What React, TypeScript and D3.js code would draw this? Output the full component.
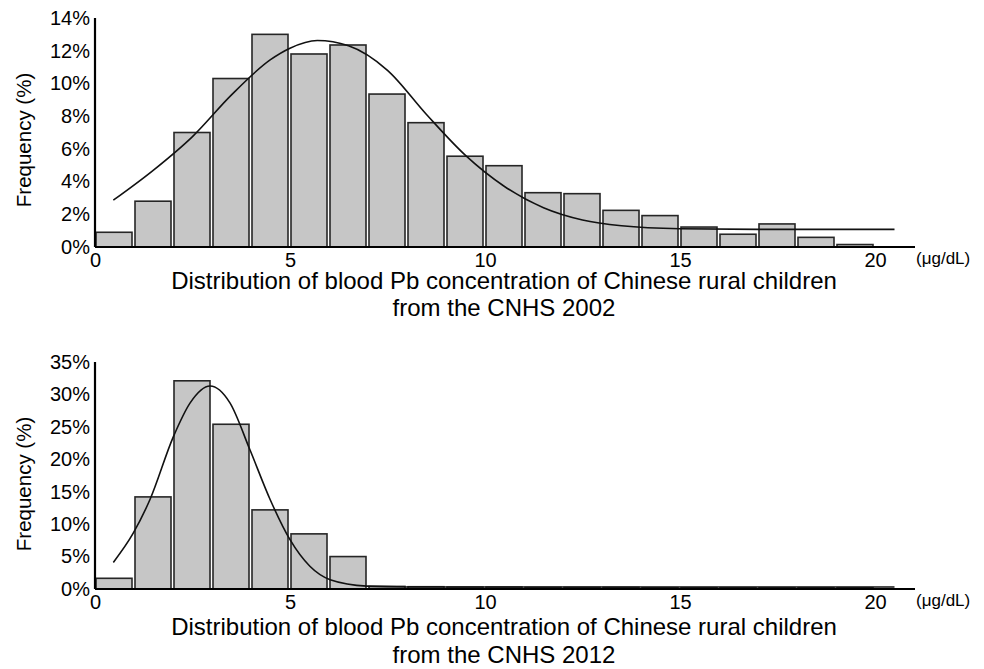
import React, { useEffect, useRef } from 'react';
import * as d3 from 'd3';

// bins are 1 µg/dL wide, 0–20
const binStarts = d3.range(0, 20);

// 2002 survey: bar heights (%)
const freq2002 = [0.9, 2.8, 7.0, 10.3, 13.0, 11.8, 12.35, 9.35, 7.6, 5.55, 4.97, 3.32, 3.26, 2.24, 1.92, 1.22, 0.78, 1.41, 0.59, 0.15];
// 2002 fitted curve [µg/dL, %]
const curve2002X = [0.47, 1.5, 2.5, 3.5, 4.5, 5.0, 5.7, 6.5, 7.5, 8.5, 9.5, 10.5, 11.5, 12.5, 13.5, 15.0, 17.0, 20.5];
const curve2002Y = [2.86, 4.7, 6.75, 9.3, 11.45, 12.15, 12.62, 12.3, 10.8, 8.1, 5.6, 3.7, 2.4, 1.65, 1.3, 1.12, 1.08, 1.08];

// 2012 survey: bar heights (%)
const freq2012 = [1.65, 14.2, 32.1, 25.4, 12.2, 8.5, 5.0, 0.4, 0.35, 0.3, 0.3, 0.25, 0.25, 0.25, 0.2, 0.2, 0.2, 0.2, 0.2, 0.2];
const curve2012X = [0.47, 0.98, 1.41, 2.01, 2.44, 2.95, 3.46, 3.97, 4.49, 5.0, 5.51, 6.03, 6.97, 8.0, 12.0, 20.5];
const curve2012Y = [4.1, 8.6, 13.8, 23.5, 28.7, 31.3, 28.7, 21.5, 13.8, 7.6, 3.5, 1.43, 0.45, 0.32, 0.3, 0.3];

const xTicks = [0, 5, 10, 15, 20];
const ticks2002 = [0, 2, 4, 6, 8, 10, 12, 14];
const ticks2012 = [0, 5, 10, 15, 20, 25, 30, 35];

const FONT = 'Liberation Sans, Arial, sans-serif';

const Panel = ({ freq, curveX, curveY, yTicks, yTop, yBottom, titleLines, titleY, labelY, svgRef }) => {
    useEffect(() => {
        if (!svgRef.current) return;
        const svg = d3.select(svgRef.current).append('g');

        const x = d3.scaleLinear().domain([0, 20]).range([95, 875]);
        const y = d3.scaleLinear().domain([0, yTicks[yTicks.length - 1]]).range([yBottom, yTop]);

        // bars
        svg.append('g')
            .selectAll('rect')
            .data(binStarts)
            .join('rect')
            .attr('x', d => x(d) + 1)
            .attr('width', d => x(d + 1) - x(d) - 3)
            .attr('y', (d, i) => y(freq[i]))
            .attr('height', (d, i) => yBottom - y(freq[i]))
            .attr('fill', '#c6c6c6')
            .attr('stroke', '#262626')
            .attr('stroke-width', 1.6);

        // fitted curve
        const pts = curveX.map((v, i) => [v, curveY[i]]);
        const line = d3.line()
            .x(d => x(d[0]))
            .y(d => y(d[1]))
            .curve(d3.curveMonotoneX);
        svg.append('path')
            .datum(pts)
            .attr('fill', 'none')
            .attr('stroke', '#111')
            .attr('stroke-width', 1.6)
            .attr('d', line);

        // axes
        svg.append('line')
            .attr('x1', 95).attr('x2', 915)
            .attr('y1', yBottom).attr('y2', yBottom)
            .attr('stroke', '#000').attr('stroke-width', 2.2);
        svg.append('line')
            .attr('x1', 95).attr('x2', 95)
            .attr('y1', yTop).attr('y2', yBottom)
            .attr('stroke', '#000').attr('stroke-width', 2.2);

        svg.append('g')
            .attr('transform', `translate(0,${yBottom})`)
            .call(d3.axisBottom(x).tickValues(xTicks).tickSize(0).tickPadding(6))
            .call(g => g.select('.domain').remove())
            .selectAll('text')
            .attr('fill', '#000')
            .style('font-family', FONT)
            .style('font-size', '20px');

        svg.append('g')
            .attr('transform', 'translate(95,0)')
            .call(d3.axisLeft(y).tickValues(yTicks).tickSize(0).tickPadding(5).tickFormat(d => d + '%'))
            .call(g => g.select('.domain').remove())
            .selectAll('text')
            .attr('fill', '#000')
            .style('font-family', FONT)
            .style('font-size', '20px');

        svg.append('text')
            .attr('x', 916)
            .attr('y', yBottom + 17)
            .text('(μg/dL)')
            .style('font-family', FONT)
            .style('font-size', '17px');

        svg.append('text')
            .attr('transform', `translate(24,${labelY}) rotate(-90)`)
            .attr('text-anchor', 'middle')
            .attr('dy', '0.35em')
            .text('Frequency (%)')
            .style('font-family', FONT)
            .style('font-size', '20.5px');

        titleLines.forEach((t, i) => {
            svg.append('text')
                .attr('x', 504)
                .attr('y', titleY[i])
                .attr('text-anchor', 'middle')
                .text(t)
                .style('font-family', FONT)
                .style('font-size', '24px');
        });

        return () => { svg.remove(); };
    }, []);
    return null;
};

const App = () => {
    const svgRef = useRef(null);
    return (
        <svg
            ref={svgRef}
            width={984}
            height={669}
            style={{ position: 'absolute', left: 0, top: 0, background: '#fff' }}
        >
            <Panel
                svgRef={svgRef}
                freq={freq2002}
                curveX={curve2002X}
                curveY={curve2002Y}
                yTicks={ticks2002}
                yTop={18}
                yBottom={247}
                labelY={140}
                titleY={[289, 316]}
                titleLines={['Distribution of blood Pb concentration of Chinese rural children', 'from the CNHS 2002']}
            />
            <Panel
                svgRef={svgRef}
                freq={freq2012}
                curveX={curve2012X}
                curveY={curve2012Y}
                yTicks={ticks2012}
                yTop={362}
                yBottom={589}
                labelY={484}
                titleY={[635, 663]}
                titleLines={['Distribution of blood Pb concentration of Chinese rural children', 'from the CNHS 2012']}
            />
        </svg>
    );
};

export default App;
